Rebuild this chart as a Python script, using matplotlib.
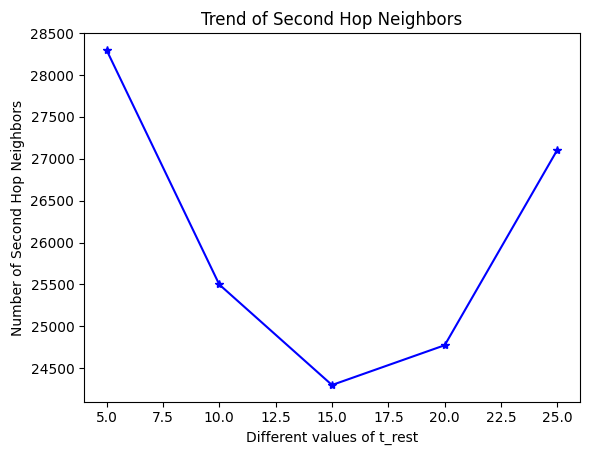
import matplotlib
matplotlib.use("Agg")
import matplotlib.pyplot as plt

t_rest = [5, 10, 15, 20, 25]
neighbors = [28300, 25500, 24300, 24775, 27110]

fig = plt.figure(figsize=(5.89, 4.55), dpi=100)
ax = fig.add_subplot(111)
fig.subplots_adjust(left=0.1426, right=0.9847, top=0.927, bottom=0.117)
ax.plot(t_rest, neighbors, color='blue', marker='*')
ax.set_title("Trend of Second Hop Neighbors")
ax.set_xlabel("Different values of t_rest")
ax.set_ylabel("Number of Second Hop Neighbors")
fig.savefig("out.png")
